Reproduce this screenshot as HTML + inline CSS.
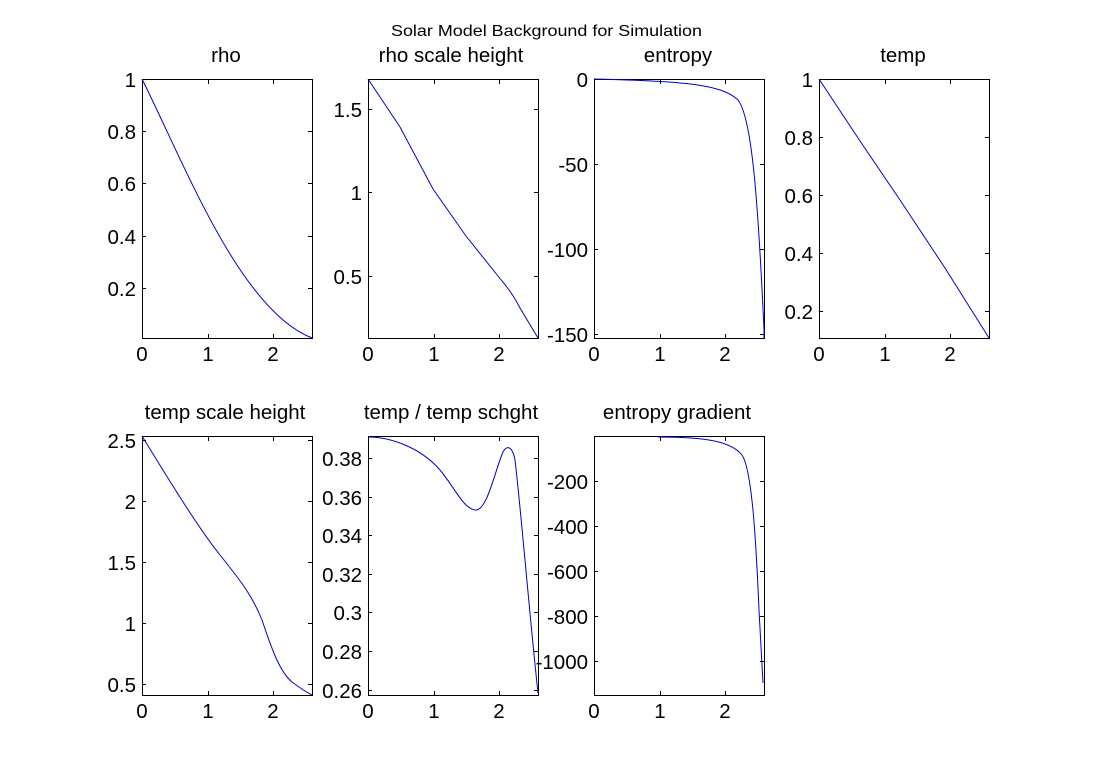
<!DOCTYPE html>
<html><head><style>body{margin:0;background:#fff}svg{display:block}text{font-family:"Liberation Sans",Arial,sans-serif;fill:#000}</style></head>
<body>
<svg width="1094" height="781" xmlns="http://www.w3.org/2000/svg">
<rect width="1094" height="781" fill="#fff"/>
<text x="391" y="36" font-size="16" textLength="311" lengthAdjust="spacingAndGlyphs">Solar Model Background for Simulation</text>
<g font-size="20.5" text-anchor="middle">
<text x="226" y="62">rho</text>
<text x="451" y="62">rho scale height</text>
<text x="678" y="62">entropy</text>
<text x="903" y="62">temp</text>
<text x="225" y="419">temp scale height</text>
<text x="451" y="419">temp / temp schght</text>
<text x="677" y="419">entropy gradient</text>
</g>
<g fill="none" stroke="#000" stroke-width="1">
<rect x="142.5" y="79.5" width="170" height="259"/>
<rect x="368.5" y="79.5" width="170" height="259"/>
<rect x="594.5" y="79.5" width="170" height="259"/>
<rect x="819.5" y="79.5" width="170" height="259"/>
<rect x="142.5" y="436.5" width="170" height="259"/>
<rect x="368.5" y="436.5" width="170" height="259"/>
<rect x="594.5" y="436.5" width="170" height="259"/>
<path d="M208.5,338v-4M273.5,338v-4M208.5,80v4M273.5,80v4
M434.5,338v-4M499.5,338v-4M434.5,80v4M499.5,80v4
M660.5,338v-4M725.5,338v-4M660.5,80v4M725.5,80v4
M885.5,338v-4M950.5,338v-4M885.5,80v4M950.5,80v4
M208.5,695v-4M273.5,695v-4M208.5,437v4M273.5,437v4
M434.5,695v-4M499.5,695v-4M434.5,437v4M499.5,437v4
M660.5,695v-4M725.5,695v-4M660.5,437v4M725.5,437v4"/>
<path d="M142,131.5h4M142,183.5h4M142,236.5h4M142,288.5h4M312,131.5h-4M312,183.5h-4M312,236.5h-4M312,288.5h-4
M368,109.5h4M368,192.5h4M368,276.5h4M538,109.5h-4M538,192.5h-4M538,276.5h-4
M594,164.5h4M594,249.5h4M594,334.5h4M764,164.5h-4M764,249.5h-4M764,334.5h-4
M819,137.5h4M819,195.5h4M819,253.5h4M819,311.5h4M989,137.5h-4M989,195.5h-4M989,253.5h-4M989,311.5h-4
M142,440.5h4M142,501.5h4M142,562.5h4M142,623.5h4M142,684.5h4M312,440.5h-4M312,501.5h-4M312,562.5h-4M312,623.5h-4M312,684.5h-4
M368,458.5h4M368,497.5h4M368,535.5h4M368,574.5h4M368,612.5h4M368,651.5h4M368,690.5h4M538,458.5h-4M538,497.5h-4M538,535.5h-4M538,574.5h-4M538,612.5h-4M538,651.5h-4M538,690.5h-4
M594,481.5h4M594,526.5h4M594,571.5h4M594,616.5h4M594,661.5h4M764,481.5h-4M764,526.5h-4M764,571.5h-4M764,616.5h-4M764,661.5h-4"/>
</g>
<g font-size="20.5" text-anchor="middle">
<text x="142" y="361">0</text><text x="208" y="361">1</text><text x="273" y="361">2</text>
<text x="368" y="361">0</text><text x="434" y="361">1</text><text x="499" y="361">2</text>
<text x="594" y="361">0</text><text x="660" y="361">1</text><text x="725" y="361">2</text>
<text x="819" y="361">0</text><text x="885" y="361">1</text><text x="950" y="361">2</text>
<text x="142" y="718">0</text><text x="208" y="718">1</text><text x="273" y="718">2</text>
<text x="368" y="718">0</text><text x="434" y="718">1</text><text x="499" y="718">2</text>
<text x="594" y="718">0</text><text x="660" y="718">1</text><text x="725" y="718">2</text>
</g>
<g font-size="20.5" text-anchor="end">
<text x="136" y="87">1</text><text x="136" y="139">0.8</text><text x="136" y="191">0.6</text><text x="136" y="244">0.4</text><text x="136" y="296">0.2</text>
<text x="362" y="117">1.5</text><text x="362" y="200">1</text><text x="362" y="284">0.5</text>
<text x="588" y="87">0</text><text x="588" y="172">-50</text><text x="588" y="257">-100</text><text x="588" y="342">-150</text>
<text x="813" y="87">1</text><text x="813" y="145">0.8</text><text x="813" y="203">0.6</text><text x="813" y="261">0.4</text><text x="813" y="319">0.2</text>
<text x="136" y="448">2.5</text><text x="136" y="509">2</text><text x="136" y="570">1.5</text><text x="136" y="631">1</text><text x="136" y="692">0.5</text>
<text x="362" y="466">0.38</text><text x="362" y="505">0.36</text><text x="362" y="543">0.34</text><text x="362" y="582">0.32</text><text x="362" y="620">0.3</text><text x="362" y="659">0.28</text><text x="362" y="698">0.26</text>
<text x="588" y="489">-200</text><text x="588" y="534">-400</text><text x="588" y="579">-600</text><text x="588" y="624">-800</text><text x="588" y="669">-1000</text>
</g>
<g fill="none" stroke="#0000c8" stroke-width="1">
<path d="M142,79 C185,165 240,310 312,338"/>
<path d="M368,79 L400,127 L433,189 L466,236 L498,276 C505,285 512,292 520,308 L538,338"/>
<path d="M819,79 L860,141 L900,200 L945,268 L989,338"/>
<path d="M594,79 C680,81 722,84 738,100 C752,118 758,200 764,330 L764,338"/>
<path d="M142,436 C175,490 200,530 220,555 C240,580 252,595 262,620 C272,650 280,672 292,682 C300,688 306,692 312,695"/>
<path d="M368,437 C390,437 420,447 440,470 C455,488 463,508 475,510 C487,512 495,470 503,452 C508,443 513,449 515,460 C520,500 530,620 538,693"/>
<path d="M658,437 C700,437 730,440 742,455 C752,470 756,540 759,610 L763,683"/>
</g>
</svg>
</body></html>
